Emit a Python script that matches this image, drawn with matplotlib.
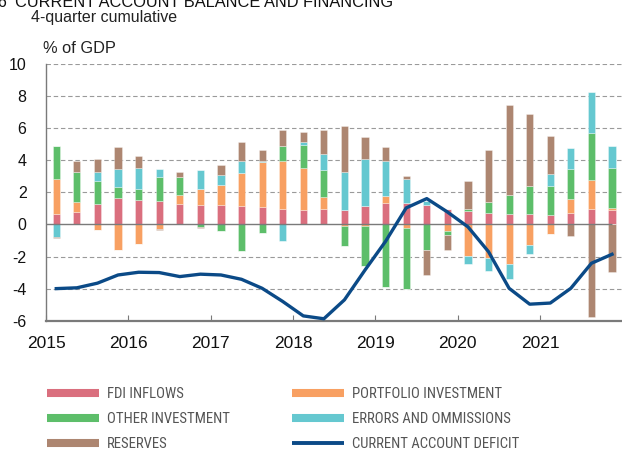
import matplotlib
matplotlib.use("Agg")
import numpy as np
import matplotlib.pyplot as plt
from matplotlib.lines import Line2D
from matplotlib import font_manager

# Data: 4-quarter cumulative, % of GDP, 2015Q1 .. 2021Q4
years = [2015, 2016, 2017, 2018, 2019, 2020, 2021]
fdi = [0.64, 0.79, 1.26, 1.66, 1.53, 1.49, 1.28, 1.22, 1.22, 1.16, 1.10, 0.99, 0.89, 0.95,
       0.91, 1.16, 1.35, 1.35, 1.22, 0.95, 0.85, 0.72, 0.68, 0.64, 0.56, 0.72, 0.95, 0.93]
portfolio = [2.17, 0.60, -0.37, -1.59, -1.20, -0.29, 0.58, 1.01, 1.24, 2.07, 2.80, 2.94, 2.63, 0.75,
             -0.08, -0.10, 0.41, -0.25, 0.00, -0.40, -1.95, -2.11, -2.48, -1.30, -0.58, 0.89, 1.80, 0.10]
other = [2.07, 1.88, 1.45, 0.68, 0.68, 1.47, 1.12, -0.17, -0.43, -1.66, -0.56, 0.97, 1.45, 1.70,
         -1.28, -2.50, -3.89, -3.79, -1.60, -0.28, 0.10, 0.68, 1.18, 1.78, 1.82, 1.84, 2.94, 2.50]
errors = [-0.77, 0.00, 0.58, 1.10, 1.28, 0.50, 0.00, 1.18, 0.62, 0.70, 0.08, -1.04, 0.17, 0.97,
          2.34, 2.92, 2.17, 1.47, 0.23, 0.00, -0.50, -0.79, -0.93, -0.56, 0.75, 1.33, 2.55, 1.33]
reserves = [-0.08, 0.70, 0.81, 1.39, 0.75, -0.08, 0.29, -0.08, 0.60, 1.22, 0.64, 0.97, 0.60, 1.51,
            2.86, 1.35, 0.91, 0.23, -1.53, -0.92, 1.74, 3.27, 5.59, 4.45, 2.38, -0.75, -5.78, -2.94]
deficit = [-4.00, -3.95, -3.66, -3.15, -2.98, -3.00, -3.25, -3.10, -3.15, -3.42, -3.98, -4.80, -5.70, -5.88,
           -4.70, -2.84, -1.05, 1.03, 1.61, 0.78, -0.15, -1.70, -3.98, -4.97, -4.90, -3.98, -2.42, -1.86]

series = [
    ("FDI INFLOWS", fdi, "#da6f7e"),
    ("PORTFOLIO INVESTMENT", portfolio, "#f8a062"),
    ("OTHER INVESTMENT", other, "#5dbe6a"),
    ("ERRORS AND OMMISSIONS", errors, "#65c8d0"),
    ("RESERVES", reserves, "#ad8671"),
]
line_color = "#0b4a87"
grey = "#7a7a7a"

plt.rcParams["font.family"] = ["Liberation Sans", "DejaVu Sans"]
plt.rcParams["axes.unicode_minus"] = False

# legend uses a condensed face if one is installed
leg_prop = None
fonts = font_manager.fontManager.ttflist
for want in ["Liberation Sans Narrow", "Roboto Condensed", "Open Sans Condensed", "DejaVu Sans Condensed"]:
    hit = [f for f in fonts if f.name == want and f.weight in (400, "normal", "regular") and f.style == "normal"]
    if hit:
        leg_prop = font_manager.FontProperties(fname=hit[0].fname, size=10.6)
        break
if leg_prop is None:
    hit = [f for f in fonts if f.name == "DejaVu Sans" and "condensed" in str(f.stretch)
           and f.style == "normal" and f.weight in (400, "normal")]
    if hit:
        leg_prop = font_manager.FontProperties(fname=hit[0].fname, size=10)
if leg_prop is None:
    leg_prop = font_manager.FontProperties(family="Liberation Sans", size=10)

x = 2015.125 + 0.25 * np.arange(len(fdi))

fig = plt.figure(figsize=(6.22, 4.5), dpi=100)
ax = fig.add_axes([46 / 622, 1 - 320.7 / 450, 576.3 / 622, 256.7 / 450])

# stacked bars, positives up and negatives down
pos_base = np.zeros(len(x))
neg_base = np.zeros(len(x))
for name, vals, col in series:
    v = np.array(vals)
    pos = np.where(v > 0, v, 0)
    neg = np.where(v < 0, v, 0)
    ax.bar(x, pos, bottom=pos_base, width=0.087, color=col,
           edgecolor=(1, 1, 1, 0.45), linewidth=0.5, zorder=3)
    ax.bar(x, neg, bottom=neg_base, width=0.087, color=col,
           edgecolor=(1, 1, 1, 0.45), linewidth=0.5, zorder=3)
    pos_base += pos
    neg_base += neg

ax.plot(x, deficit, color=line_color, lw=2.4, zorder=5, solid_joinstyle="round")
ax.hlines(0, 2015, x[-1], color=grey, lw=1.0, zorder=4)

ax.set_xlim(2015, 2022)
ax.set_ylim(-6, 10)
ax.set_yticks(range(-6, 11, 2))
ax.set_xticks(years)
ax.set_xticklabels([str(y) for y in years])
for yv in [-4, -2, 2, 4, 6, 8, 10]:
    ax.axhline(yv, color="#9a9a9a", lw=0.8, ls=(0, (4, 2.5)), zorder=1)

for s in ["top", "right"]:
    ax.spines[s].set_visible(False)
ax.spines["left"].set_color(grey)
ax.spines["left"].set_linewidth(1.0)
ax.spines["bottom"].set_color(grey)
ax.spines["bottom"].set_linewidth(1.6)
ax.tick_params(axis="y", length=0, pad=14, labelsize=11.5, labelcolor="#111")
ax.tick_params(axis="x", direction="in", length=4, width=0.8, color=grey, pad=11,
               labelsize=12.5, labelcolor="#111")

# titles
fig.text(-3 / 622, 1 - 7 / 450, "6", fontsize=11.5, va="baseline", color="#111")
fig.text(15 / 622, 1 - 7 / 450, "CURRENT ACCOUNT BALANCE AND FINANCING", fontsize=11.8,
         va="baseline", color="#111")
fig.text(31 / 622, 1 - 21.7 / 450, "4-quarter cumulative", fontsize=11.5, va="baseline", color="#222")
fig.text(43 / 622, 1 - 53.3 / 450, "% of GDP", fontsize=11.8, va="baseline", color="#222")

# legend in two columns
def handle(col, lw=5.8):
    return Line2D([0], [0], color=col, lw=lw, solid_capstyle="butt")

fs_px = leg_prop.get_size_in_points() * 100 / 72
col1 = [series[0], series[2], series[4]]
col2 = [series[1], series[3]]
h1 = [handle(c) for _, _, c in col1]
l1 = [n for n, _, _ in col1]
h2 = [handle(c) for _, _, c in col2] + [handle(line_color, 2.8)]
l2 = [n for n, _, _ in col2] + ["CURRENT ACCOUNT DEFICIT"]
for hs, ls, xl in [(h1, l1, 47), (h2, l2, 292)]:
    lg = fig.legend(hs, ls, loc="upper left", bbox_to_anchor=(xl / 622, 1 - 387.5 / 450),
                    frameon=False, prop=leg_prop, handlelength=52 / fs_px,
                    handletextpad=8 / fs_px, labelspacing=10.8 / fs_px,
                    borderpad=0, borderaxespad=0)
    for t in lg.get_texts():
        t.set_color("#555")

fig.savefig("out.png", dpi=100)
